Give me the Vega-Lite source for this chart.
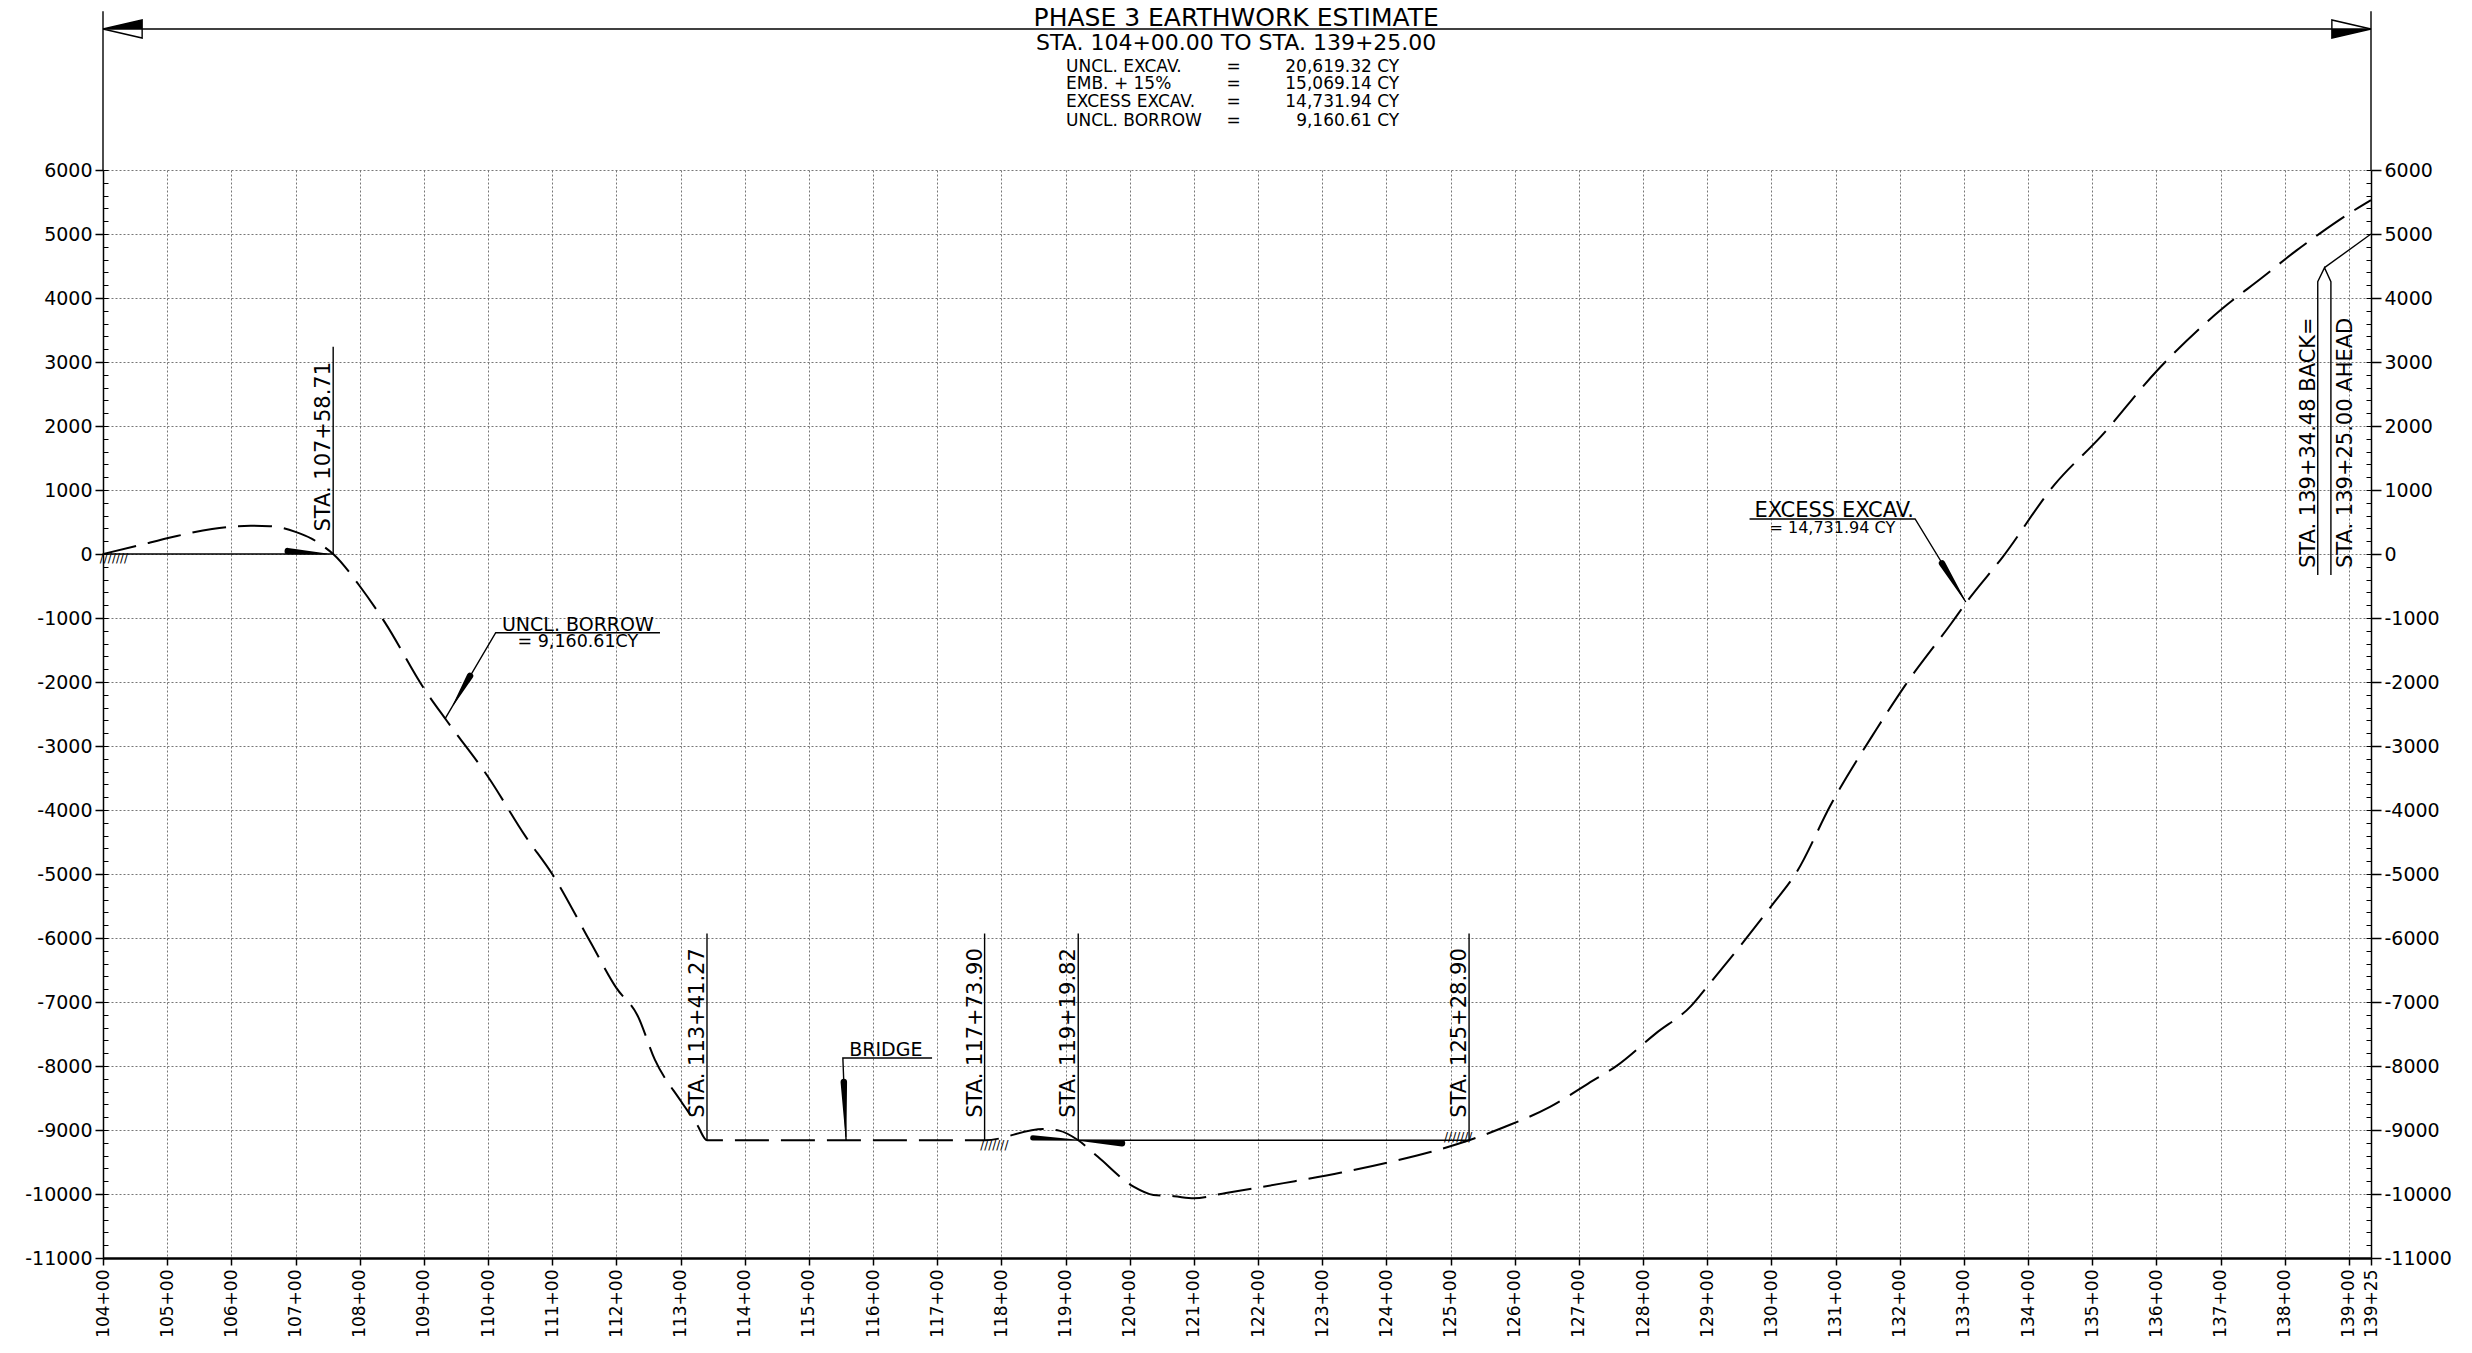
{
  "$schema": "https://vega.github.io/schema/vega-lite/v6.json",
  "width": 2268,
  "height": 1088,
  "autosize": "none",
  "padding": {"left": 103, "top": 170, "right": 101, "bottom": 95},
  "background": "white",
  "config": {"view": {"stroke": null}, "font": "DejaVu Sans", "text": {"color": "black"}},
  "datasets": {
    "curve": [
      {"s":104,"v":0},{"s":104.5,"v":120},{"s":105.1,"v":270},{"s":105.7,"v":390},{"s":106.3,"v":440},{"s":106.6,"v":435},{"s":107.0,"v":345},{"s":107.25,"v":240},{"s":107.45,"v":110},{"s":107.5871,"v":0},
      {"s":108.0,"v":-500},{"s":108.4,"v":-1080},{"s":109.0,"v":-2100},{"s":109.36,"v":-2610},{"s":110.0,"v":-3480},{"s":110.59,"v":-4420},{"s":111.0,"v":-5000},{"s":111.6,"v":-6070},{"s":112.0,"v":-6780},{"s":112.33,"v":-7210},{"s":112.6,"v":-7900},{"s":113.0,"v":-8540},{"s":113.26,"v":-8920},{"s":113.4127,"v":-9160.61},
      {"s":117.739,"v":-9160.61},{"s":118.65,"v":-8985},{"s":118.9,"v":-9010},{"s":119.1982,"v":-9160.61},{"s":119.5,"v":-9415},{"s":120.06,"v":-9885},{"s":120.37,"v":-10015},{"s":120.69,"v":-10035},{"s":121.0,"v":-10067},
      {"s":121.5,"v":-9985},{"s":122.4,"v":-9830},{"s":123.3,"v":-9665},{"s":124.1,"v":-9490},{"s":124.7,"v":-9340},{"s":125.289,"v":-9160.61},{"s":125.85,"v":-8950},{"s":126.55,"v":-8640},{"s":127.15,"v":-8270},{"s":127.6,"v":-7990},{"s":128.2,"v":-7490},{"s":128.75,"v":-7060},{"s":129.0,"v":-6760},{"s":129.55,"v":-6080},{"s":130.0,"v":-5500},{"s":130.4,"v":-4960},{"s":130.92,"v":-3930},{"s":131.64,"v":-2735},{"s":132.08,"v":-2060},{"s":132.8,"v":-1090},{"s":133.07,"v":-715},{"s":133.61,"v":-40},{"s":134.41,"v":1080},{"s":135.13,"v":1830},{"s":136.02,"v":2875},{"s":137.01,"v":3820},{"s":137.65,"v":4320},{"s":138.18,"v":4740},{"s":138.55,"v":5010},{"s":139.09,"v":5375},{"s":139.3448,"v":5530}
    ],
    "lines": [
      {"id":"dim","o":1,"s":104,"v":8203},{"id":"dim","o":2,"s":139.3448,"v":8203},
      {"id":"extL","o":1,"s":104,"v":6000},{"id":"extL","o":2,"s":104,"v":8480},
      {"id":"extR","o":1,"s":139.3448,"v":6000},{"id":"extR","o":2,"s":139.3448,"v":8480},
      {"id":"arrL","o":1,"s":104,"v":8203},{"id":"arrL","o":2,"s":104.61,"v":8344},{"id":"arrL","o":3,"s":104.61,"v":8062},{"id":"arrL","o":4,"s":104,"v":8203},
      {"id":"arrR","o":1,"s":139.3448,"v":8203},{"id":"arrR","o":2,"s":138.735,"v":8344},{"id":"arrR","o":3,"s":138.735,"v":8062},{"id":"arrR","o":4,"s":139.3448,"v":8203},
      {"id":"bal0","o":1,"s":104,"v":0},{"id":"bal0","o":2,"s":107.5871,"v":0},
      {"id":"bal1","o":1,"s":119.1982,"v":-9160.61},{"id":"bal1","o":2,"s":125.289,"v":-9160.61},
      {"id":"st1","o":1,"s":107.5871,"v":0},{"id":"st1","o":2,"s":107.5871,"v":3240},
      {"id":"st2","o":1,"s":113.4127,"v":-9160.61},{"id":"st2","o":2,"s":113.4127,"v":-5930},
      {"id":"st3","o":1,"s":117.739,"v":-9160.61},{"id":"st3","o":2,"s":117.739,"v":-5930},
      {"id":"st4","o":1,"s":119.1982,"v":-9160.61},{"id":"st4","o":2,"s":119.1982,"v":-5930},
      {"id":"st5","o":1,"s":125.289,"v":-9160.61},{"id":"st5","o":2,"s":125.289,"v":-5930},
      {"id":"ldB","o":1,"s":112.68,"v":-1230},{"id":"ldB","o":2,"s":110.12,"v":-1230},{"id":"ldB","o":3,"s":109.33,"v":-2575},
      {"id":"ldX","o":1,"s":129.66,"v":547},{"id":"ldX","o":2,"s":132.24,"v":547},{"id":"ldX","o":3,"s":133.03,"v":-750},
      {"id":"ldBr","o":1,"s":116.92,"v":-7875},{"id":"ldBr","o":2,"s":115.53,"v":-7875},{"id":"ldBr","o":3,"s":115.58,"v":-9160.61},
      {"id":"eqA","o":1,"s":138.515,"v":-330},{"id":"eqA","o":2,"s":138.515,"v":4255},{"id":"eqA","o":3,"s":138.62,"v":4474},{"id":"eqA","o":4,"s":138.72,"v":4255},{"id":"eqA","o":5,"s":138.72,"v":-330},
      {"id":"eqB","o":1,"s":138.62,"v":4474},{"id":"eqB","o":2,"s":139.3448,"v":5000}
    ],
    "wedges": [
      {"id":"w0","s":106.88,"v":45,"w":1},{"id":"w0","s":107.49,"v":0,"w":0},
      {"id":"w1","s":118.49,"v":-9124,"w":0.8},{"id":"w1","s":119.2,"v":-9160.61,"w":0},
      {"id":"w2","s":119.2,"v":-9160.61,"w":0},{"id":"w2","s":119.88,"v":-9207,"w":1},
      {"id":"wB","s":109.72,"v":-1906,"w":1},{"id":"wB","s":109.46,"v":-2355,"w":0},
      {"id":"wX","s":132.66,"v":-146,"w":1},{"id":"wX","s":133.01,"v":-719,"w":0},
      {"id":"wBr","s":115.545,"v":-8250,"w":1},{"id":"wBr","s":115.578,"v":-9100,"w":0}
    ],
    "fills": [
      {"id":"fL","s":104,"v":8203,"v2":8203},{"id":"fL","s":104.61,"v":8203,"v2":8344},
      {"id":"fR","s":138.735,"v":8203,"v2":8062},{"id":"fR","s":139.3448,"v":8203,"v2":8203}
    ],
    "hatch": [
      {"s":104.17,"v":-60},{"s":117.89,"v":-9228},{"s":125.12,"v":-9115}
    ],
    "stalbl": [
      {"t":"STA. 107+58.71","s":107.5871,"v":350},
      {"t":"STA. 113+41.27","s":113.4127,"v":-8810},
      {"t":"STA. 117+73.90","s":117.739,"v":-8810},
      {"t":"STA. 119+19.82","s":119.1982,"v":-8810},
      {"t":"STA. 125+28.90","s":125.289,"v":-8810},
      {"t":"STA. 139+34.48 BACK=","s":138.515,"v":-220}
    ],
    "stalblr": [
      {"t":"STA. 139+25.00 AHEAD","s":138.72,"v":-220}
    ],
    "hdr": [
      {"col":"title","t":"PHASE 3 EARTHWORK ESTIMATE","s":121.66,"v":8250},
      {"col":"sub","t":"STA. 104+00.00 TO STA. 139+25.00","s":121.66,"v":7875},
      {"col":"lab","t":"UNCL. EXCAV.","s":119.008,"v":7539},
      {"col":"lab","t":"EMB. + 15%","s":119.008,"v":7258},
      {"col":"lab","t":"EXCESS EXCAV.","s":119.008,"v":6977},
      {"col":"lab","t":"UNCL. BORROW","s":119.008,"v":6695},
      {"col":"eq","t":"=","s":121.62,"v":7539},
      {"col":"eq","t":"=","s":121.62,"v":7258},
      {"col":"eq","t":"=","s":121.62,"v":6977},
      {"col":"eq","t":"=","s":121.62,"v":6695},
      {"col":"val","t":"20,619.32 CY","s":124.2,"v":7539},
      {"col":"val","t":"15,069.14 CY","s":124.2,"v":7258},
      {"col":"val","t":"14,731.94 CY","s":124.2,"v":6977},
      {"col":"val","t":"9,160.61 CY","s":124.2,"v":6695}
    ],
    "notes": [
      {"t":"UNCL. BORROW","s":111.40,"v":-1203},
      {"t":"= 9,160.61CY","s":111.40,"v":-1459},
      {"t":"EXCESS EXCAV.","s":130.98,"v":583},
      {"t":"= 14,731.94 CY","s":130.95,"v":327},
      {"t":"BRIDGE","s":116.2,"v":-7844}
    ]
  },
  "layer": [
    {
      "encoding": {
        "x": {"field":"s","type":"quantitative","title":null,
          "scale":{"domain":[104,139.3448],"nice":false,"zero":false},
          "axis":{"values":[104,105,106,107,108,109,110,111,112,113,114,115,116,117,118,119,120,121,122,123,124,125,126,127,128,129,130,131,132,133,134,135,136,137,138,139,139.3448],
            "labelExpr":"datum.value > 139.2 ? '139+25' : datum.value + '+00'",
            "labelAngle":270,"labelOverlap":false,"labelFlush":false,
            "grid":true,"gridColor":"#777777","gridDash":[2,2],"gridWidth":1,
            "tickSize":7,"tickColor":"black","tickWidth":1.5,
            "domainColor":"black","domainWidth":2.5,
            "labelFontSize":17,"labelColor":"black","labelPadding":4,"title":null}},
        "y": {"field":"v","type":"quantitative","title":null,
          "scale":{"domain":[-11000,6000],"nice":false,"zero":false},
          "axis":{"orient":"left","values":[-11000,-10000,-9000,-8000,-7000,-6000,-5000,-4000,-3000,-2000,-1000,0,1000,2000,3000,4000,5000,6000],
            "labelExpr":"'' + datum.value",
            "grid":true,"gridColor":"#777777","gridDash":[2,2],"gridWidth":1,
            "tickSize":8,"tickColor":"black","tickWidth":1.5,
            "domainColor":"black","domainWidth":1.5,
            "labelFontSize":19,"labelColor":"black","labelPadding":3,"title":null}}
      },
      "layer": [
        {"data":{"name":"curve"},"mark":{"type":"line","color":"black","strokeWidth":2,"strokeDash":[34,12],"interpolate":"monotone"}},
        {"data":{"name":"lines"},"mark":{"type":"line","color":"black","strokeWidth":1.4},
          "encoding":{"detail":{"field":"id"},"order":{"field":"o","type":"quantitative"}}},
        {"data":{"name":"fills"},"mark":{"type":"area","color":"black","orient":"vertical"},
          "encoding":{"y2":{"field":"v2"},"detail":{"field":"id"}}},
        {"data":{"name":"wedges"},"mark":{"type":"trail","color":"black"},
          "encoding":{"size":{"field":"w","type":"quantitative","scale":{"domain":[0,1],"range":[0,6.5]},"legend":null},"detail":{"field":"id"}}},
        {"data":{"name":"hatch"},"mark":{"type":"text","fontSize":12,"align":"center","baseline":"middle"},
          "encoding":{"text":{"value":"///////"}}},
        {"data":{"name":"stalbl"},"mark":{"type":"text","fontSize":21,"angle":270,"align":"left","baseline":"alphabetic","dy":-3},
          "encoding":{"text":{"field":"t"}}},
        {"data":{"name":"stalblr"},"mark":{"type":"text","fontSize":21,"angle":270,"align":"left","baseline":"top","dy":4},
          "encoding":{"text":{"field":"t"}}},
        {"data":{"name":"hdr"},"transform":[{"filter":"datum.col == 'title'"}],"mark":{"type":"text","fontSize":25,"align":"center","baseline":"alphabetic"},
          "encoding":{"text":{"field":"t"}}},
        {"data":{"name":"hdr"},"transform":[{"filter":"datum.col == 'sub'"}],"mark":{"type":"text","fontSize":22,"align":"center","baseline":"alphabetic"},
          "encoding":{"text":{"field":"t"}}},
        {"data":{"name":"hdr"},"transform":[{"filter":"datum.col == 'lab'"}],"mark":{"type":"text","fontSize":17,"align":"left","baseline":"alphabetic"},
          "encoding":{"text":{"field":"t"}}},
        {"data":{"name":"hdr"},"transform":[{"filter":"datum.col == 'eq'"}],"mark":{"type":"text","fontSize":17,"align":"center","baseline":"alphabetic"},
          "encoding":{"text":{"field":"t"}}},
        {"data":{"name":"hdr"},"transform":[{"filter":"datum.col == 'val'"}],"mark":{"type":"text","fontSize":17,"align":"right","baseline":"alphabetic"},
          "encoding":{"text":{"field":"t"}}},
        {"data":{"name":"notes"},"transform":[{"filter":"datum.t == 'UNCL. BORROW' || datum.t == 'BRIDGE'"}],"mark":{"type":"text","fontSize":19,"align":"center","baseline":"alphabetic"},
          "encoding":{"text":{"field":"t"}}},
        {"data":{"name":"notes"},"transform":[{"filter":"datum.t == 'EXCESS EXCAV.'"}],"mark":{"type":"text","fontSize":21,"align":"center","baseline":"alphabetic"},
          "encoding":{"text":{"field":"t"}}},
        {"data":{"name":"notes"},"transform":[{"filter":"datum.t == '= 9,160.61CY'"}],"mark":{"type":"text","fontSize":17.5,"align":"center","baseline":"alphabetic"},
          "encoding":{"text":{"field":"t"}}},
        {"data":{"name":"notes"},"transform":[{"filter":"datum.t == '= 14,731.94 CY'"}],"mark":{"type":"text","fontSize":16,"align":"center","baseline":"alphabetic"},
          "encoding":{"text":{"field":"t"}}}
      ]
    },
    {
      "data":{"name":"curve"},
      "mark":{"type":"point","opacity":0},
      "encoding":{"y":{"field":"v","type":"quantitative","title":null,
        "scale":{"domain":[-11000,6000],"nice":false,"zero":false},
        "axis":{"orient":"right","values":[-11000,-10000,-9000,-8000,-7000,-6000,-5000,-4000,-3000,-2000,-1000,0,1000,2000,3000,4000,5000,6000],
          "labelExpr":"'' + datum.value","grid":false,
          "tickSize":10,"tickColor":"black","tickWidth":1.5,
          "domainColor":"black","domainWidth":1.5,
          "labelFontSize":19,"labelColor":"black","labelPadding":3,"title":null}}}
    },
    {
      "data":{"name":"curve"},
      "mark":{"type":"point","opacity":0},
      "encoding":{"y":{"field":"v","type":"quantitative","title":null,
        "scale":{"domain":[-11000,6000],"nice":false,"zero":false},
        "axis":{"orient":"left","values":[-11000,-10800,-10600,-10400,-10200,-10000,-9800,-9600,-9400,-9200,-9000,-8800,-8600,-8400,-8200,-8000,-7800,-7600,-7400,-7200,-7000,-6800,-6600,-6400,-6200,-6000,-5800,-5600,-5400,-5200,-5000,-4800,-4600,-4400,-4200,-4000,-3800,-3600,-3400,-3200,-3000,-2800,-2600,-2400,-2200,-2000,-1800,-1600,-1400,-1200,-1000,-800,-600,-400,-200,0,200,400,600,800,1000,1200,1400,1600,1800,2000,2200,2400,2600,2800,3000,3200,3400,3600,3800,4000,4200,4400,4600,4800,5000,5200,5400,5600,5800,6000],
          "labels":false,"domain":false,"grid":false,"ticks":true,
          "tickSize":-5,"tickColor":"black","tickWidth":1,"title":null}}}
    },
    {
      "data":{"name":"curve"},
      "mark":{"type":"point","opacity":0},
      "encoding":{"y":{"field":"v","type":"quantitative","title":null,
        "scale":{"domain":[-11000,6000],"nice":false,"zero":false},
        "axis":{"orient":"right","values":[-11000,-10800,-10600,-10400,-10200,-10000,-9800,-9600,-9400,-9200,-9000,-8800,-8600,-8400,-8200,-8000,-7800,-7600,-7400,-7200,-7000,-6800,-6600,-6400,-6200,-6000,-5800,-5600,-5400,-5200,-5000,-4800,-4600,-4400,-4200,-4000,-3800,-3600,-3400,-3200,-3000,-2800,-2600,-2400,-2200,-2000,-1800,-1600,-1400,-1200,-1000,-800,-600,-400,-200,0,200,400,600,800,1000,1200,1400,1600,1800,2000,2200,2400,2600,2800,3000,3200,3400,3600,3800,4000,4200,4400,4600,4800,5000,5200,5400,5600,5800,6000],
          "labels":false,"domain":false,"grid":false,"ticks":true,
          "tickSize":-5,"tickColor":"black","tickWidth":1,"title":null}}}
    }
  ],
  "resolve":{"scale":{"y":"independent"}}
}
